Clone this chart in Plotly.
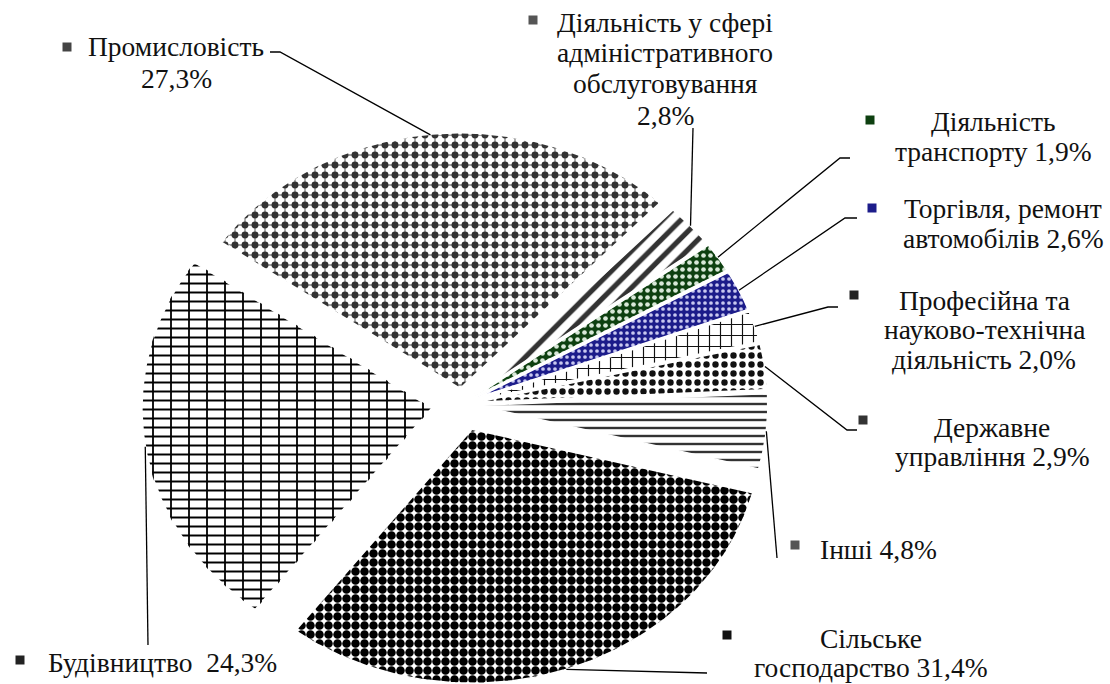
import numpy as np
import plotly.graph_objects as go

# ---------------- data ----------------
categories = [
    "Промисловість",
    "Діяльність у сфері адміністративного обслуговування",
    "Діяльність транспорту",
    "Торгівля, ремонт автомобілів",
    "Професійна та науково-технічна діяльність",
    "Державне управління",
    "Інші",
    "Сільське господарство",
    "Будівництво",
]
values = [27.3, 2.8, 1.9, 2.6, 2.0, 2.9, 4.8, 31.4, 24.3]
# label text (category name split into lines, value appended to last line)
label_lines = [
    ["Промисловість", ""],
    ["Діяльність у сфері", "адміністративного", "обслуговування", ""],
    ["Діяльність", "транспорту "],
    ["Торгівля, ремонт", "автомобілів "],
    ["Професійна та", "науково-технічна", "діяльність "],
    ["Державне", "управління "],
    ["Інші "],
    ["Сільське", "господарство "],
    ["Будівництво  "],
]

# ---------------- layout / style ----------------
W, H = 1110, 684
CX, CY = 462, 404          # pie centre (px)
RX, RY = 290, 254          # pie radii (px) -> elliptical pie
START = 145                # start angle (deg, ccw from 3 o'clock); slices run clockwise
pulls = [0.065, 0.055, 0.055, 0.055, 0.055, 0.055, 0.055, 0.105, 0.105]
FONT = "Liberation Serif"
FSIZE = 27.5

patterns = [
    dict(shape="+", fgcolor="#a0a0a0", bgcolor="#ffffff", size=10, solidity=0.32, fgopacity=1),
    dict(shape="/", fgcolor="#333333", bgcolor="#ffffff", size=13, solidity=0.4, fgopacity=1),
    dict(shape=".", fgcolor="#d8e8d8", bgcolor="#0d4010", size=7, solidity=0.35, fgopacity=1),
    dict(shape=".", fgcolor="#c8c8f0", bgcolor="#1c1c8a", size=6, solidity=0.3, fgopacity=1),
    dict(shape="+", fgcolor="#111111", bgcolor="#ffffff", size=11, solidity=0.2, fgopacity=1),
    dict(shape=".", fgcolor="#111111", bgcolor="#ffffff", size=9, solidity=0.4, fgopacity=1),
    dict(shape="-", fgcolor="#333333", bgcolor="#ffffff", size=8, solidity=0.3, fgopacity=1),
    dict(shape=".", fgcolor="#000000", bgcolor="#ffffff", size=9, solidity=0.7, fgopacity=1),
    dict(shape="-", fgcolor="#000000", bgcolor="#ffffff", size=9, solidity=0.22, fgopacity=1),
]
overlays = {
    0: dict(shape=".", fgcolor="#333333", bgcolor="rgba(0,0,0,0)", size=10, solidity=0.38, fgopacity=1),
    8: dict(shape="|", fgcolor="#000000", bgcolor="rgba(0,0,0,0)", size=18, solidity=0.1, fgopacity=1),
}
icon_colors = ["#444444", "#555555", "#0d4010", "#1c1c8a", "#222222",
               "#333333", "#555555", "#111111", "#222222"]

# label: centre x and y of each line (px)
label_x = [176, 665, 993, 1003, 984, 992, 878, 871, 162]
label_y = [[47, 78], [22, 53, 84, 115], [121, 151], [208, 238], [300, 330, 359],
           [427, 456], [549], [638, 667], [662]]
icon_pos = [(67, 47), (533, 20), (870, 120), (872, 208), (854, 295),
            (863, 420), (795, 545), (727, 635), (20, 660)]
leader_pts = [
    [(270, 52), (280, 52)],
    [(693, 128)],
    [(850, 158), (840, 158)],
    [(857, 218), (845, 218)],
    [(838, 307), (828, 307)],
    [(857, 430), (847, 430)],
    [(777, 558)],
    [(707, 673)],
    [(148, 645)],
]


def px(x, y):
    """pixel position -> data units of the pie axes"""
    return (x - CX) / RX, (CY - y) / RY


fig = go.Figure()

total = sum(values)
cum = 0.0
for i, v in enumerate(values):
    a0 = START - cum / total * 360
    a1 = a0 - v / total * 360
    cum += v
    mid = np.radians((a0 + a1) / 2)
    ox, oy = pulls[i] * np.cos(mid), pulls[i] * np.sin(mid)
    th = np.radians(np.linspace(a0, a1, 120))
    xs = np.concatenate([[ox], ox + np.cos(th), [ox]])
    ys = np.concatenate([[oy], oy + np.sin(th), [oy]])
    fig.add_trace(go.Scatter(
        x=xs, y=ys, mode="lines", fill="toself",
        fillcolor=patterns[i]["bgcolor"],
        fillpattern=patterns[i],
        line=dict(color="#ffffff", width=1.5),
        hoverinfo="skip", showlegend=False, name=categories[i]))
    if i in overlays:
        fig.add_trace(go.Scatter(
            x=xs, y=ys, mode="lines", fill="toself",
            fillcolor="rgba(0,0,0,0)",
            fillpattern=overlays[i],
            line=dict(color="rgba(0,0,0,0)", width=0),
            hoverinfo="skip", showlegend=False))

    # leader line from label to the slice's outer arc (mid angle)
    ex = ox + np.cos(mid)
    ey = oy + np.sin(mid)
    lx = [px(*p)[0] for p in leader_pts[i]] + [ex]
    ly = [px(*p)[1] for p in leader_pts[i]] + [ey]
    fig.add_trace(go.Scatter(x=lx, y=ly, mode="lines",
                             line=dict(color="#000000", width=1.3),
                             hoverinfo="skip", showlegend=False))

    # label text, one annotation per line
    lines = list(label_lines[i])
    lines[-1] = lines[-1] + f"{v:.1f}%".replace(".", ",")
    for txt, ly_ in zip(lines, label_y[i]):
        fig.add_annotation(x=label_x[i] / W, y=1 - ly_ / H,
                           xref="paper", yref="paper", text=txt, showarrow=False,
                           xanchor="center", yanchor="middle", align="center",
                           font=dict(family=FONT, size=FSIZE, color="#111111"))

# legend-key style icons next to labels
ix = [px(*p)[0] for p in icon_pos]
iy = [px(*p)[1] for p in icon_pos]
fig.add_trace(go.Scatter(x=ix, y=iy, mode="markers",
                         marker=dict(symbol="square", size=9, color=icon_colors),
                         hoverinfo="skip", showlegend=False))

fig.update_xaxes(range=[-CX / RX, (W - CX) / RX], visible=False, fixedrange=True)
fig.update_yaxes(range=[-(H - CY) / RY, CY / RY], visible=False, fixedrange=True)
fig.update_layout(width=W, height=H, margin=dict(l=0, r=0, t=0, b=0),
                  paper_bgcolor="#ffffff", plot_bgcolor="#ffffff",
                  font=dict(family=FONT),
                  showlegend=False)

fig.write_html("out.html", config={"displayModeBar": False},
               post_script="document.body.style.margin='0';document.body.style.overflow='hidden';")
